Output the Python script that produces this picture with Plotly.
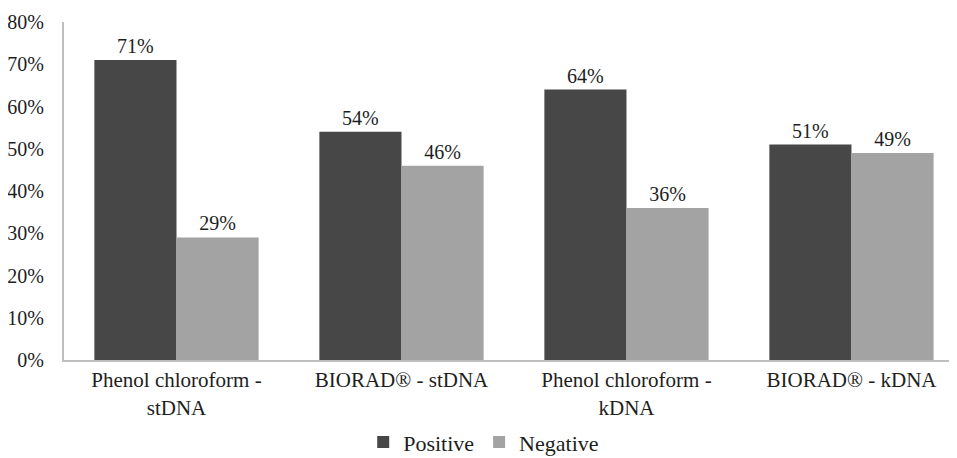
import plotly.graph_objects as go

categories = ["Phenol chloroform -<br>stDNA", "BIORAD® - stDNA",
              "Phenol chloroform -<br>kDNA", "BIORAD® - kDNA"]
positive = [71, 54, 64, 51]
negative = [29, 46, 36, 49]
y_ticks = [0, 10, 20, 30, 40, 50, 60, 70, 80]

font_family = "Liberation Serif"
text_color = "#1e1e1e"

fig = go.Figure()
fig.add_trace(go.Bar(
    x=categories, y=positive, name="Positive",
    marker=dict(color="#474747", line=dict(width=0)),
    text=[f"{v}%" for v in positive], textposition="outside",
    textfont=dict(family=font_family, size=20, color=text_color),
    cliponaxis=False,
))
fig.add_trace(go.Bar(
    x=categories, y=negative, name="Negative",
    marker=dict(color="#a3a3a3", line=dict(width=0)),
    text=[f"{v}%" for v in negative], textposition="outside",
    textfont=dict(family=font_family, size=20, color=text_color),
    cliponaxis=False,
))

# page body has an 8px margin, so the figure is offset by 8px
fig.update_layout(
    width=949, height=450,
    margin=dict(l=56, r=0, t=14, b=98, autoexpand=False),
    paper_bgcolor="white", plot_bgcolor="white",
    barmode="group", bargap=0.27, bargroupgap=0,
    font=dict(family=font_family, size=20, color=text_color),
    showlegend=True,
    legend=dict(orientation="h", x=0.47, xanchor="center", y=-0.243, yanchor="middle",
                font=dict(family=font_family, size=22, color=text_color),
                itemwidth=30, traceorder="normal"),
    xaxis=dict(range=[-0.5, 3.469], showline=True, linecolor="#bfbfbf", linewidth=2,
               showgrid=False, ticks="", automargin=False,
               tickfont=dict(family=font_family, size=21, color=text_color)),
    yaxis=dict(range=[0, 80], tickvals=y_ticks, ticktext=[f"{v}%" for v in y_ticks],
               showline=True, linecolor="#bfbfbf", linewidth=2, showgrid=False,
               zeroline=False, ticks="", ticklabelstandoff=14, automargin=False,
               tickfont=dict(family=font_family, size=20, color=text_color)),
)

fig.write_html("out.html")
